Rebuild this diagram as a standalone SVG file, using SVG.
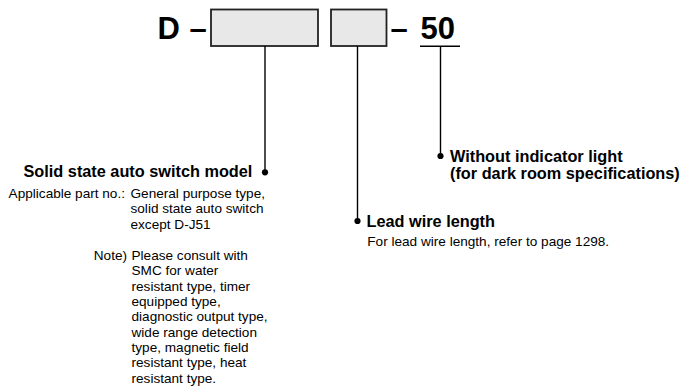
<svg xmlns="http://www.w3.org/2000/svg" width="685" height="390" viewBox="0 0 685 390">
<style>
.big{font-family:"Liberation Sans",Arial,sans-serif;font-weight:bold;font-size:31px;fill:#000}
.h{font-family:"Liberation Sans",Arial,sans-serif;font-weight:bold;font-size:16.3px;fill:#000}
.t{font-family:"Liberation Sans",Arial,sans-serif;font-size:13.6px;fill:#000}
.box{fill:#e8e8e8;stroke:#222;stroke-width:1.8}
.ln{stroke:#000;stroke-width:1.4;fill:none}
.dot{fill:#000}
</style>
<rect width="685" height="390" fill="#fff"/>
<g id="code">
<text class="big" x="157.5" y="38.5">D</text>
<text class="big" x="189.5" y="38.5">–</text>
<text class="big" x="390.5" y="38.5">–</text>
<text class="big" x="420.5" y="38.5">50</text>
<line x1="420" y1="46.3" x2="460" y2="46.3" stroke="#000" stroke-width="1.6"/>
</g>
<g id="box-model"><rect class="box" x="211" y="9.5" width="107" height="36.5"/></g>
<g id="box-lead"><rect class="box" x="331" y="9.5" width="55.5" height="36.5"/></g>
<g id="connectors">
<line class="ln" x1="265" y1="46" x2="265" y2="172.3"/>
<circle class="dot" cx="265" cy="172.3" r="3.1"/>
<line class="ln" x1="357.5" y1="46" x2="357.5" y2="221"/>
<circle class="dot" cx="357.5" cy="221" r="3.1"/>
<line class="ln" x1="440.5" y1="46.3" x2="440.5" y2="156"/>
<circle class="dot" cx="440.5" cy="156" r="3.1"/>
</g>
<g id="label-model">
<text class="h" x="23.5" y="177.3">Solid state auto switch model</text>
<text class="t" x="125" y="197.7" text-anchor="end">Applicable part no.:</text>
<text class="t" x="130.5" y="197.7">General purpose type,</text>
<text class="t" x="130.5" y="213.1">solid state auto switch</text>
<text class="t" x="130.5" y="228.5">except D-J51</text>
<text class="t" x="127" y="260" text-anchor="end">Note)</text>
<text class="t" x="131.5" y="260">Please consult with</text>
<text class="t" x="131.5" y="275.3">SMC for water</text>
<text class="t" x="131.5" y="290.7">resistant type, timer</text>
<text class="t" x="131.5" y="306">equipped type,</text>
<text class="t" x="131.5" y="321.4">diagnostic output type,</text>
<text class="t" x="131.5" y="336.7">wide range detection</text>
<text class="t" x="131.5" y="352">type, magnetic field</text>
<text class="t" x="131.5" y="367.4">resistant type, heat</text>
<text class="t" x="131.5" y="382.7">resistant type.</text>
</g>
<g id="label-lead">
<text class="h" x="366.5" y="227.3">Lead wire length</text>
<text class="t" x="367.3" y="246">For lead wire length, refer to page 1298.</text>
</g>
<g id="label-light">
<text class="h" x="450" y="161.7">Without indicator light</text>
<text class="h" x="450" y="179.3">(for dark room specifications)</text>
</g>
</svg>
